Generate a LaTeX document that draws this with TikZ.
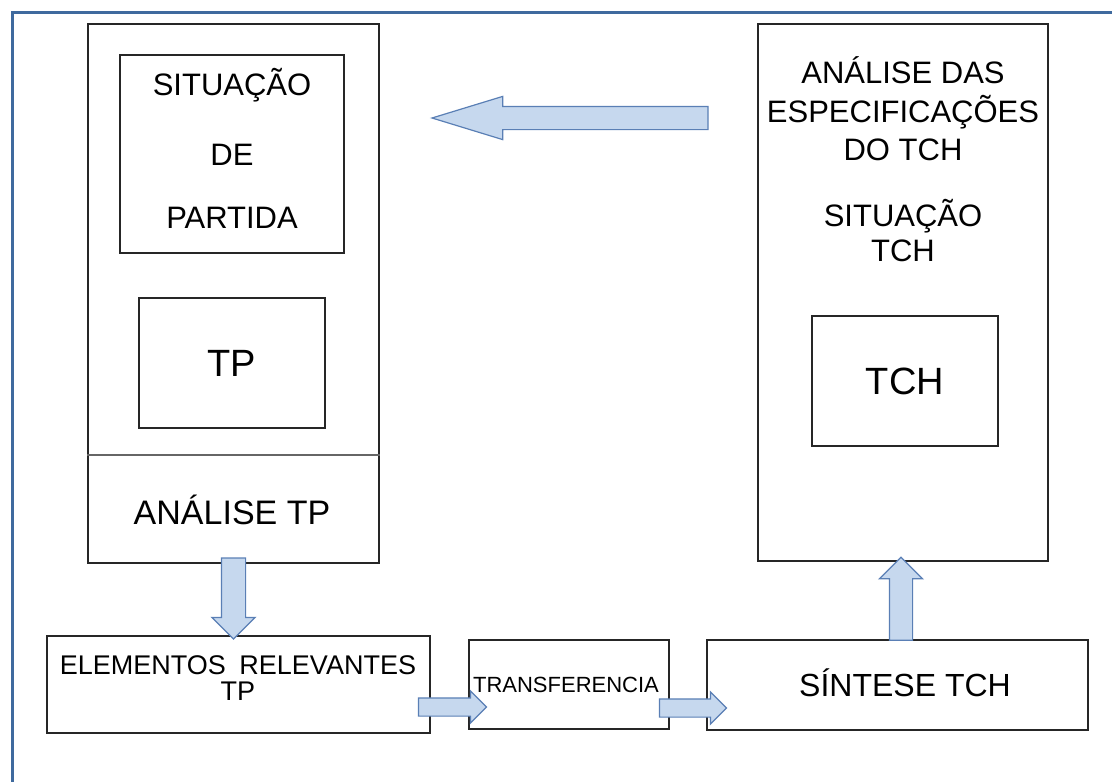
\documentclass[tikz,border=0pt]{standalone}
\usepackage{fontspec}
\setmainfont{Liberation Sans}
\usetikzlibrary{shapes.arrows}

\definecolor{framecol}{HTML}{3F6A9E}
\definecolor{arrowfill}{HTML}{C6D8EE}
\definecolor{arrowline}{HTML}{5A7FB5}

\tikzset{
  box/.style={draw=black!85, line width=1.4pt, inner sep=0pt},
  txt/.style={align=center, inner sep=0pt, font=\fontsize{#1}{#1}\selectfont},
  blockarrow/.style={single arrow, draw=arrowline, fill=arrowfill, line width=1.2pt,
    minimum height=#1, inner sep=0pt},
}

\begin{document}
\begin{tikzpicture}[x=1pt, y=-1pt]
    \useasboundingbox (0,0) rectangle (1112,782);

    % outer frame
    \draw[framecol, line width=3pt] (12,820) -- (12,12) -- (1150,12);

    % left column
    \node[box, minimum width=291pt, minimum height=539pt] (left) at (233.5,293.5) {};
    \node[box, minimum width=224pt, minimum height=198pt] (partida) at (232,154) {};
    \node[txt=31] (sit) at (232,85) {SITUAÇÃO};
    \node[txt=31] (de)  at (232,155) {DE};
    \node[txt=31] (par) at (232,218) {PARTIDA};
    \node[box, minimum width=186pt, minimum height=130pt] (tp) at (232,363) {};
    \node[txt=38] at (tp) {TP};
    \coordinate (div) at (0,455);
    \draw[black!60, line width=1.4pt] (left.west |- div) -- (left.east |- div);
    \node[txt=34] (antp) at (232,510) {ANÁLISE TP};

    % right column
    \node[box, minimum width=290pt, minimum height=537pt] (right) at (903,292.5) {};
    \node[txt=31, font=\fontsize{31}{38.5}\selectfont] (espec) at (903,109) {ANÁLISE DAS\\ESPECIFICAÇÕES\\DO TCH};
    \node[txt=31, font=\fontsize{31}{35}\selectfont] (sittch) at (903,231) {SITUAÇÃO\\TCH};
    \node[box, minimum width=186pt, minimum height=130pt] (tch) at (905,381) {};
    \node[txt=38] at (tch) {TCH};

    % bottom row
    \node[box, minimum width=383pt, minimum height=97pt] (elem) at (238.5,684.5) {};
    \node[txt=27, font=\fontsize{27}{26}\selectfont] at (238,678) {ELEMENTOS\enspace RELEVANTES\\TP};
    \node[box, minimum width=200pt, minimum height=89pt] (transf) at (569,684.5) {};
    \node[txt=22] at (566,685) {TRANSFERENCIA};
    \node[box, minimum width=381pt, minimum height=90pt] (sint) at (897.5,685) {};
    \node[txt=32] at (905,683) {SÍNTESE TCH};

    % block arrows
    \node[blockarrow=276pt, inner sep=11pt, single arrow head extend=10pt,
          single arrow tip angle=34, shape border rotate=180] (back) at (589,118) {};
    \node[blockarrow=81pt, inner sep=11.5pt, single arrow head extend=9.5pt,
          shape border rotate=270] (down) at (233.5,592.5) {};
    \node[blockarrow=83pt, inner sep=11pt, single arrow head extend=10pt,
          shape border rotate=90] (up) at (901,604.5) {};
    \node[blockarrow=68pt, inner sep=8.5pt, single arrow head extend=7pt] (toTransf) at (448,707) {};
    \node[blockarrow=67pt, inner sep=8.5pt, single arrow head extend=7pt] (toSint) at (688.5,708) {};

\end{tikzpicture}
\end{document}
